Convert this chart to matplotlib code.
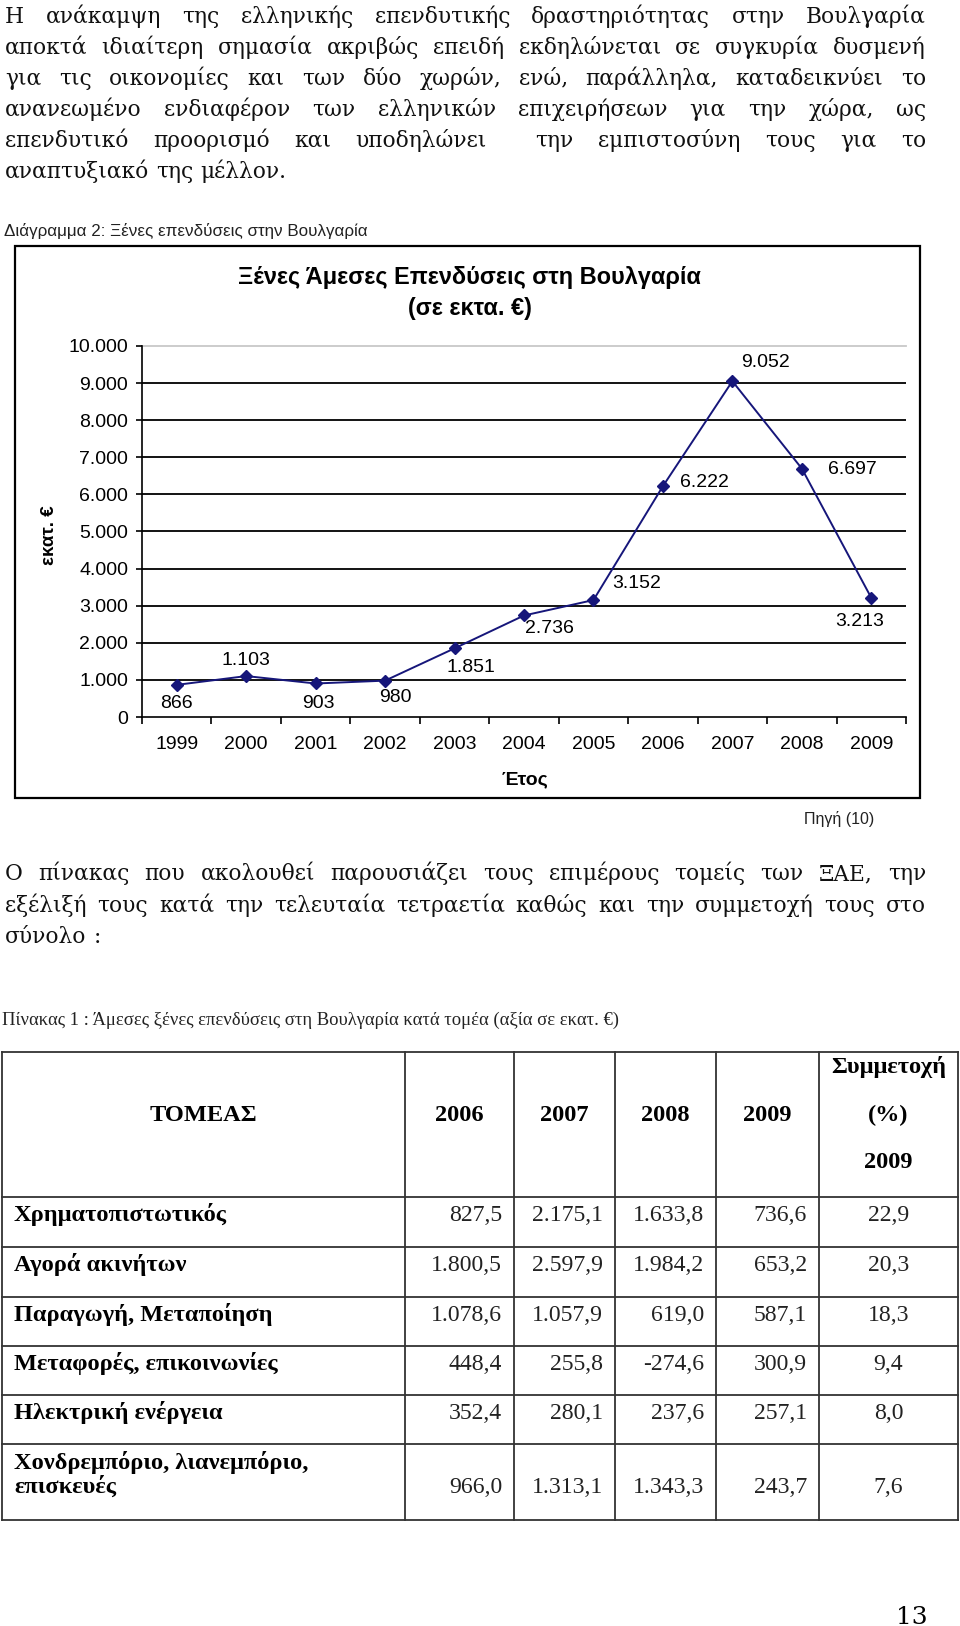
import numpy as np
import matplotlib
matplotlib.use('Agg')
import matplotlib.pyplot as plt
from matplotlib.patches import Rectangle

# ---------------- data ----------------
years = [1999, 2000, 2001, 2002, 2003, 2004, 2005, 2006, 2007, 2008, 2009]
fdi_meur = [866, 1103, 903, 980, 1851, 2736, 3152, 6222, 9052, 6697, 3213]
y_tick_values = [0, 1000, 2000, 3000, 4000, 5000, 6000, 7000, 8000, 9000, 10000]

table_years = ['2006', '2007', '2008', '2009']
sectors = ['Χρηματοπιστωτικός', 'Αγορά ακινήτων', 'Παραγωγή, Μεταποίηση',
           'Μεταφορές, επικοινωνίες', 'Ηλεκτρική ενέργεια',
           'Χονδρεμπόριο, λιανεμπόριο,\nεπισκευές']
val_2006 = [827.5, 1800.5, 1078.6, 448.4, 352.4, 966.0]
val_2007 = [2175.1, 2597.9, 1057.9, 255.8, 280.1, 1313.1]
val_2008 = [1633.8, 1984.2, 619.0, -274.6, 237.6, 1343.3]
val_2009 = [736.6, 653.2, 587.1, 300.9, 257.1, 243.7]
share_2009 = [22.9, 20.3, 18.3, 9.4, 8.0, 7.6]

paragraph1 = [
    'Η ανάκαμψη της ελληνικής επενδυτικής δραστηριότητας στην Βουλγαρία',
    'αποκτά ιδιαίτερη σημασία ακριβώς επειδή εκδηλώνεται σε συγκυρία δυσμενή',
    'για τις οικονομίες και των δύο χωρών, ενώ, παράλληλα, καταδεικνύει το',
    'ανανεωμένο ενδιαφέρον των ελληνικών επιχειρήσεων για την χώρα, ως',
    'επενδυτικό προορισμό και υποδηλώνει  την εμπιστοσύνη τους για το',
    'αναπτυξιακό της μέλλον.',
]
paragraph2 = [
    'Ο πίνακας που ακολουθεί παρουσιάζει τους επιμέρους τομείς των ΞΑΕ, την',
    'εξέλιξή τους κατά την τελευταία τετραετία καθώς και την συμμετοχή τους στο',
    'σύνολο :',
]
chart_caption = 'Διάγραμμα 2: Ξένες επενδύσεις στην Βουλγαρία'
chart_title = 'Ξένες Άμεσες Επενδύσεις στη Βουλγαρία\n(σε εκτα. €)'
x_title = 'Έτος'
y_title = 'εκατ. €'
source_note = 'Πηγή (10)'
table_caption = 'Πίνακας 1 : Άμεσες ξένες επενδύσεις στη Βουλγαρία κατά τομέα (αξία σε εκατ. €)'
sector_header = 'ΤΟΜΕΑΣ'
share_header = ['Συμμετοχή', '(%)', '2009']
page_number = '13'

# label offsets (pixels) of the data labels, layout only
label_offsets = [(0, -19), (0, 16), (3, -20), (10, -17), (16, -19), (25, -13),
                 (43, 17), (42, 4), (33, 19), (51, -1), (-12, -24)]


def gr(v, d=0):
    s = f"{v:,.{d}f}"
    return s.replace(',', '§').replace('.', ',').replace('§', '.')


W, H = 960, 1626
SERIF = ['DejaVu Serif']
SERIF2 = ['Liberation Serif', 'DejaVu Serif']
SANS = ['Liberation Sans', 'DejaVu Sans']

fig = plt.figure(figsize=(W / 100, H / 100), dpi=100)
page = fig.add_axes([0, 0, 1, 1])
page.set_xlim(0, W)
page.set_ylim(H, 0)
page.axis('off')
renderer = fig.canvas.get_renderer()


def text_width(s, fs, family, weight='normal'):
    if s == '':
        return 0.0
    t = page.text(0, 0, s, fontsize=fs, family=family, weight=weight)
    w = t.get_window_extent(renderer).width
    t.remove()
    return w


def fit_fs(s, target, family, weight='normal', base=20.0):
    return base * target / text_width(s, base, family, weight)


def draw_paragraph(lines, baselines, x0, x1, fs, family):
    space = text_width('a a', fs, family) - text_width('aa', fs, family)
    for k, (line, yb) in enumerate(zip(lines, baselines)):
        words = line.split(' ')
        widths = [text_width(w, fs, family) for w in words]
        last = (k == len(lines) - 1)
        if not last and len(words) > 1:
            gap = (x1 - x0 - sum(widths)) / (len(words) - 1)
        else:
            gap = space
        x = x0
        for w, wd in zip(words, widths):
            if w:
                page.text(x, yb, w, fontsize=fs, family=family,
                          ha='left', va='baseline', color='#111111')
            x += wd + gap


# ---------- paragraph 1 ----------
fs_par = fit_fs(paragraph1[-1], 281, SERIF)
longest = max(text_width(l, fs_par, SERIF) for l in paragraph1 + paragraph2)
if longest > 916:
    fs_par = fs_par * 916 / longest
draw_paragraph(paragraph1, [22.7 + 31.0 * k for k in range(6)], 5, 926, fs_par, SERIF)

# caption
page.text(4, 231, chart_caption, fontsize=fit_fs(chart_caption, 362, SANS), family=SANS,
          ha='left', va='center', color='#222222')

# chart frame
page.add_patch(Rectangle((15, 246), 905, 552, fill=False, ec='black', lw=1.6))
page.text(469.5, 293, chart_title, fontsize=16.9, family=SANS, weight='bold',
          ha='center', va='center', linespacing=1.4)
page.text(49, 535, y_title, fontsize=13.5, family=SANS, weight='bold', rotation=90,
          ha='center', va='center')
page.text(524.5, 780, x_title, fontsize=14, family=SANS, weight='bold',
          ha='center', va='center')
page.text(839.5, 819, source_note, fontsize=11.5, family=SANS, ha='center', va='center',
          color='#222222')

# ---------- chart ----------
ax = fig.add_axes([142 / W, 1 - 717 / H, (906 - 142) / W, (717 - 346) / H])
xs = np.arange(len(years))
ax.set_xlim(-0.5, len(years) - 0.5)
ax.set_ylim(y_tick_values[0], y_tick_values[-1])
for v in y_tick_values[1:-1]:
    ax.axhline(v, color='black', lw=1.3, zorder=1)
ax.axhline(y_tick_values[-1], color='#c8c8c8', lw=1.3, zorder=1, clip_on=False)
ax.plot(xs, fdi_meur, color='#16167a', lw=1.4, marker='D', ms=6,
        mfc='#16167a', mec='#16167a', zorder=3)
for i, (v, off) in enumerate(zip(fdi_meur, label_offsets)):
    ax.annotate(gr(v), (xs[i], v), xytext=off, textcoords='offset pixels',
                ha='center', va='center', fontsize=14, family=SANS, zorder=4)

for s in ['top', 'right']:
    ax.spines[s].set_visible(False)
for s in ['left', 'bottom']:
    ax.spines[s].set_linewidth(1.2)
    ax.spines[s].set_color('black')
ax.set_yticks(y_tick_values)
ax.set_yticklabels([gr(v) for v in y_tick_values], family=SANS, fontsize=14)
ax.tick_params(axis='y', length=4, width=1.2, pad=6, colors='black')
ax.set_xticks(np.arange(-0.5, len(years), 1.0))
ax.set_xticklabels([])
ax.set_xticks(xs, minor=True)
ax.set_xticklabels([str(y) for y in years], minor=True, family=SANS, fontsize=14)
ax.tick_params(axis='x', which='major', length=5, width=1.2, direction='out')
ax.tick_params(axis='x', which='minor', length=0, pad=14)
ax.set_facecolor('none')

# ---------- paragraph 2 ----------
draw_paragraph(paragraph2, [880, 911.5, 943], 5, 926, fs_par, SERIF)

page.text(2, 1020, table_caption, fontsize=fit_fs(table_caption, 618, SERIF2),
          family=SERIF2, ha='left', va='center', color='#222222')

# ---------- table ----------
col_x = [2, 405, 514, 615, 716, 819, 958]
row_y = [1052, 1197, 1247, 1297, 1346, 1395, 1444, 1520]
for yy in row_y:
    page.plot([col_x[0], col_x[-1]], [yy, yy], color='#333333', lw=1.3)
for xx in col_x:
    page.plot([xx, xx], [row_y[0], row_y[-1]], color='#333333', lw=1.3)

fs_bold = fit_fs(sectors[0], 213, SERIF2, 'bold')
fs_val = fit_fs(gr(val_2006[1], 1), 71, SERIF2)
page.text((col_x[0] + col_x[1]) / 2, 1115, sector_header, fontsize=fs_bold, family=SERIF2,
          weight='bold', ha='center', va='center')
for j, yr in enumerate(table_years):
    page.text((col_x[j + 1] + col_x[j + 2]) / 2, 1115, yr, fontsize=fs_bold, family=SERIF2,
              weight='bold', ha='center', va='center')
for k, (s, yy) in enumerate(zip(share_header, [1067, 1115, 1162])):
    page.text((col_x[5] + col_x[6]) / 2, yy, s, fontsize=fs_bold, family=SERIF2,
              weight='bold', ha='center', va='center')

cols = [val_2006, val_2007, val_2008, val_2009]
for r, sec in enumerate(sectors):
    top = row_y[r + 1]
    nlines = sec.count('\n') + 1
    if nlines == 1:
        yb = top + 24
        page.text(14, yb, sec, fontsize=fs_bold, family=SERIF2, weight='bold',
                  ha='left', va='baseline')
    else:
        for li, part in enumerate(sec.split('\n')):
            page.text(14, top + 25 + 24 * li, part, fontsize=fs_bold, family=SERIF2,
                      weight='bold', ha='left', va='baseline')
        yb = top + 25 + 24 * (nlines - 1)
    for j, col in enumerate(cols):
        page.text(col_x[j + 2] - 12, yb, gr(col[r], 1), fontsize=fs_val, family=SERIF2,
                  ha='right', va='baseline', color='#222222')
    page.text((col_x[5] + col_x[6]) / 2, yb, gr(share_2009[r], 1), fontsize=fs_val,
              family=SERIF2, ha='center', va='baseline', color='#222222')

page.text(911.5, 1624, page_number, fontsize=18, family=SERIF, ha='center', va='baseline')

fig.savefig('out.png', dpi=100, facecolor='white')
